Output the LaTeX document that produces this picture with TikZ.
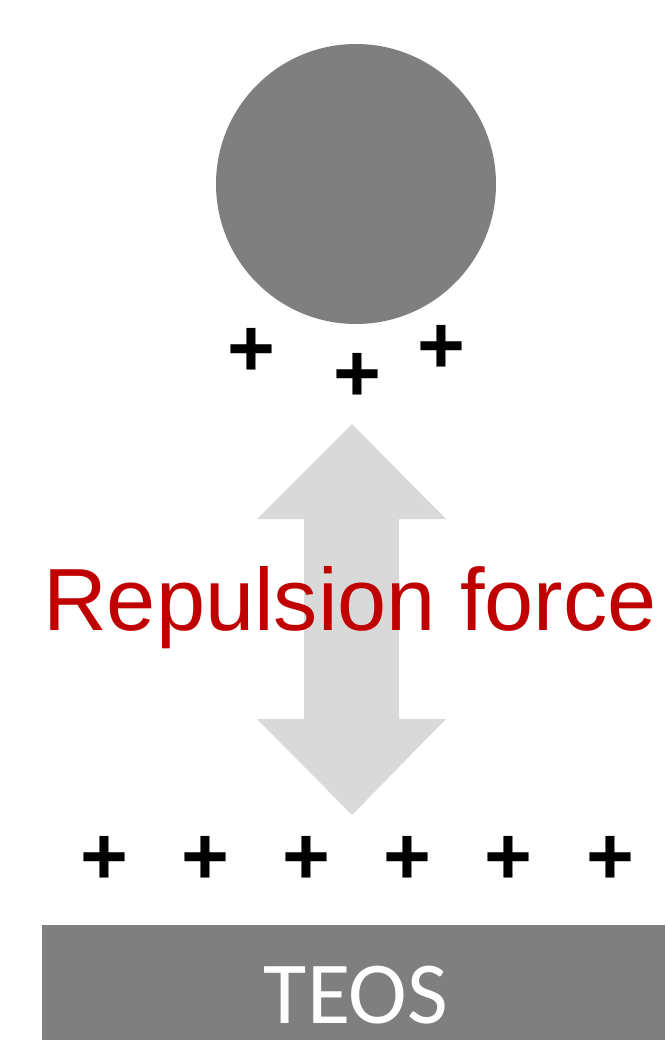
\documentclass[tikz,border=0pt]{standalone}
\usepackage{fontspec}
\newfontfamily\arialfont{Liberation Sans}
\newfontfamily\calibrifont{Carlito}
\usetikzlibrary{positioning}
\definecolor{forcered}{HTML}{C00000}
\definecolor{solidgray}{HTML}{7F7F7F}
\definecolor{arrowgray}{HTML}{D9D9D9}

\begin{document}
\begin{tikzpicture}[x=0.03cm, y=-0.03cm, charge/.style={anchor=base, inner sep=0pt, font=\arialfont\bfseries\fontsize{70}{80}\selectfont}, force/.style={anchor=base, inner sep=0pt, text=forcered, font=\arialfont\fontsize{75.4}{80}\selectfont}, film/.style={anchor=base, inner sep=0pt, text=white, font=\calibrifont\fontsize{75.5}{80}\selectfont}]
\useasboundingbox (0,0) rectangle (665,1040);
% particle
\fill[solidgray] (356,184) circle[radius=140];
\node[charge] (q1) at (251,376) {+};
\node[charge] (q2) at (357,401) {+};
\node[charge] (q3) at (441,373) {+};
% double arrow
\fill[arrowgray] (352,424) -- (446,519) -- (399,519) -- (399,719) -- (446,719) -- (352,815) -- (257,719) -- (304,719) -- (304,519) -- (257,519) -- cycle;
\node[force] (rep) at (350,630) {Repulsion force};
% surface charges
\foreach \i in {0,...,5}
  \node[charge] (s\i) at (104+101.2*\i,884) {+};
% substrate
\fill[solidgray] (42,925) rectangle (665,1040);
\node[film] (teos) at (356,1023) {TEOS};
\end{tikzpicture}
\end{document}
